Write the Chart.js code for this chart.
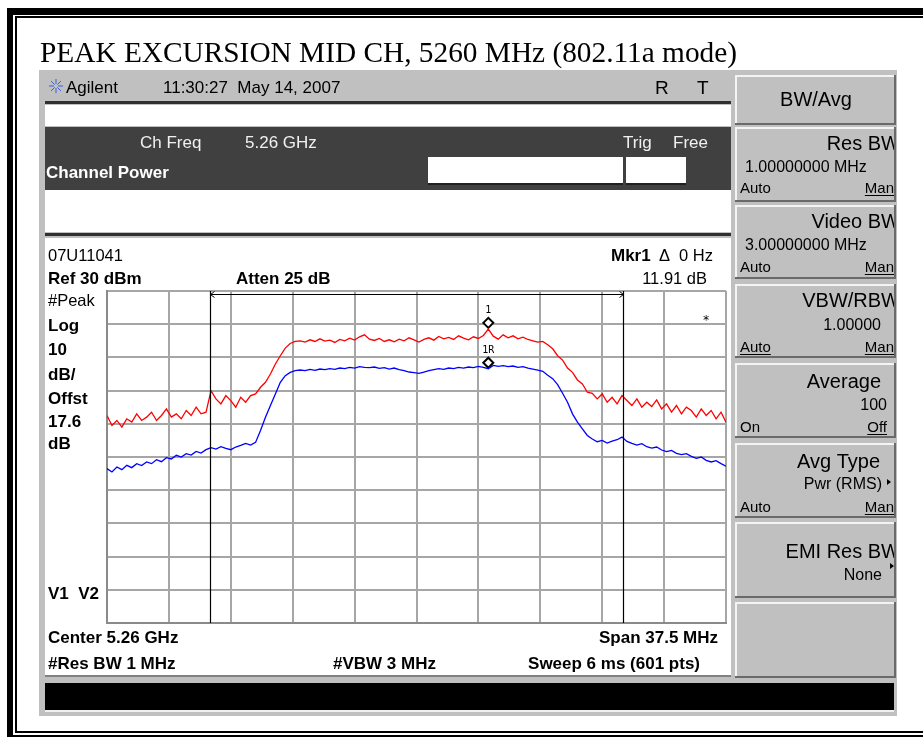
<!DOCTYPE html>
<html>
<head>
<meta charset="utf-8">
<script src="https://cdn.jsdelivr.net/npm/chart.js@4.4.1/dist/chart.umd.min.js"></script>
<style>
  html, body { margin: 0; padding: 0; background: #fff; }
  canvas { display: block; }
</style>
</head>
<body>
<canvas id="spectrum" width="923" height="737"></canvas>
<script>
// sweep settings (offset from center, MHz) and level scale (dBm)
const spanStart = -18.75;
const sweepStep = 0.3;
const yTicks = [-70, -60, -50, -40, -30, -20, -10, 0, 10, 20, 30];

// peak hold trace (red)
const redTrace = [
  -7.5, -10.5, -9.0, -11.0, -8.5, -9.5, -7.0, -9.0, -8.0, -6.5,
  -9.0, -7.5, -5.5, -8.0, -7.0, -8.5, -6.0, -7.5, -5.0, -7.0,
  -6.5, 0.0, -2.5, -4.0, -1.5, -3.0, -5.0, -2.0, -3.5, -1.5,
  -1.0, 1.0, 2.5, 5.0, 8.0, 10.5, 12.8, 14.2, 14.8, 15.0,
  14.6, 15.3, 14.8, 15.6, 14.9, 15.2, 14.5, 15.4, 15.0, 15.8,
  15.2, 16.2, 16.8, 15.5, 15.1, 15.7, 14.8, 15.3, 14.7, 15.5,
  15.0, 15.9, 15.3, 14.6, 15.4, 15.9, 15.2, 16.3, 15.6, 16.0,
  15.4, 16.5, 15.8, 15.3, 16.2, 15.7, 16.6, 18.5, 16.4, 15.5,
  16.8, 15.9, 16.5, 15.6, 16.1, 15.4, 15.0, 14.6, 14.8, 13.8,
  12.6, 10.5, 9.2, 6.8, 5.5, 3.2, 2.0, -0.5, -0.8, -2.5,
  -1.0, -3.5, -2.0, -4.0, -1.5, -3.0, -4.5, -2.5, -5.0, -3.5,
  -4.8, -2.8, -5.5, -4.0, -6.5, -4.5, -7.0, -5.0, -6.0, -8.0,
  -5.5, -7.5, -6.0, -8.5, -6.5, -9.5
];

// average (RMS) trace (blue)
const blueTrace = [
  -23.5, -24.5, -23.0, -23.8, -22.5, -23.2, -22.0, -22.6, -21.5, -22.0,
  -20.8, -21.4, -20.2, -20.6, -19.5, -20.0, -19.0, -19.4, -18.3, -18.8,
  -17.8, -17.2, -17.6, -16.9, -17.4, -17.8, -17.0, -16.5, -15.9, -16.4,
  -15.6, -12.0, -8.0, -4.5, -1.0, 2.5, 4.5, 5.5, 6.0, 6.2,
  6.0, 6.4, 6.1, 6.5, 6.3, 6.6, 6.4, 6.8, 6.6, 7.0,
  6.8, 7.2, 7.0, 6.9, 7.1, 6.7, 6.9, 6.5, 6.8, 6.3,
  6.0, 5.6, 5.4, 5.2, 5.6, 6.0, 6.3, 6.6, 6.4, 6.8,
  6.6, 7.0, 6.8, 7.1, 6.9, 7.3, 7.0, 6.6, 7.6, 7.3,
  7.5, 7.2, 7.4, 7.0, 7.2, 6.8, 6.5, 6.2, 5.8, 4.6,
  3.6, 1.8, -0.8, -3.5, -7.0, -9.5, -11.5, -13.5, -14.6, -15.4,
  -15.0, -15.8, -15.2, -14.8, -14.0, -15.3, -15.9, -16.4, -16.0, -16.9,
  -17.3, -17.0, -17.9, -18.4, -18.0, -18.9, -19.3, -19.0, -19.8, -20.4,
  -20.0, -21.0, -21.5, -21.1, -22.0, -22.8
];

// marker 1 / 1R (delta marker) and channel power integration limits
const markerFreq = [4.35, 4.35];
const markerLevel = [20.4, 8.4];
const markerNames = ['1', '1R'];
const integLimits = [-12.5, 12.5];

const freqAxis = redTrace.map((_, i) => spanStart + i * sweepStep);
const toPoints = (vals) => vals.map((v, i) => ({ x: freqAxis[i], y: v }));

const NARROW = '"Liberation Sans", Arial, sans-serif';

function txt(ctx, s, x, y, font, color, align) {
  ctx.font = font;
  ctx.fillStyle = color || '#000';
  ctx.textAlign = align || 'left';
  ctx.textBaseline = 'alphabetic';
  ctx.fillText(s, x, y);
}

// draw text squeezed/stretched to a given width
function fitText(ctx, s, x, y, width, font) {
  ctx.save();
  ctx.font = font;
  ctx.fillStyle = '#000';
  ctx.textAlign = 'left';
  const w = ctx.measureText(s).width;
  ctx.translate(x, y);
  ctx.scale(width / w, 1);
  ctx.fillText(s, 0, 0);
  ctx.restore();
}

function underline(ctx, s, x, y, align) {
  const w = ctx.measureText(s).width;
  const x0 = align === 'right' ? x - w : x;
  ctx.fillRect(x0, y + 2, w, 1);
}

function softkey(ctx, x, y, w, h) {
  ctx.fillStyle = '#c0c0c0';
  ctx.fillRect(x, y, w, h);
  ctx.fillStyle = '#f4f4f4';
  ctx.fillRect(x, y, w, 2);
  ctx.fillRect(x, y, 2, h);
  ctx.fillStyle = '#6a6a6a';
  ctx.fillRect(x, y + h - 2, w, 2);
  ctx.fillRect(x + w - 2, y, 2, h);
}

// everything around the graticule: frame, analyzer screen, annotations
const screenPlugin = {
  id: 'screen',
  beforeDraw(chart) {
    const ctx = chart.ctx;
    ctx.save();
    ctx.fillStyle = '#fff';
    ctx.fillRect(0, 0, 923, 737);

    // double black frame
    ctx.fillStyle = '#000';
    ctx.fillRect(7, 8, 916, 7);
    ctx.fillRect(7, 8, 6, 729);
    ctx.fillRect(7, 735, 916, 2);
    ctx.fillRect(15, 16, 908, 2);
    ctx.fillRect(15, 16, 2, 717);
    ctx.fillRect(15, 731, 908, 2);

    // title
    fitText(ctx, 'PEAK EXCURSION MID CH, 5260 MHz (802.11a mode)', 40, 62, 697,
        '30px "Liberation Serif", "Times New Roman", serif');

    // analyzer screen
    ctx.fillStyle = '#c0c0c0';
    ctx.fillRect(39, 70, 858, 646);

    // status line
    ctx.strokeStyle = '#3a5fd8';
    ctx.lineWidth = 1;
    for (let a = 0; a < 8; a++) {
      const ang = a * Math.PI / 4;
      ctx.beginPath();
      ctx.moveTo(56 + Math.cos(ang) * 2, 86 + Math.sin(ang) * 2);
      ctx.lineTo(56 + Math.cos(ang) * 7, 86 + Math.sin(ang) * 7);
      ctx.stroke();
    }
    txt(ctx, 'Agilent', 66, 93, '17px ' + NARROW, '#000');
    txt(ctx, '11:30:27  May 14, 2007', 163, 93, '17px ' + NARROW, '#000');
    txt(ctx, 'R', 655, 94, '19px ' + NARROW, '#000');
    txt(ctx, 'T', 697, 94, '19px ' + NARROW, '#000');

    ctx.fillStyle = '#303030';
    ctx.fillRect(45, 101, 686, 3);
    ctx.fillStyle = '#fff';
    ctx.fillRect(45, 105, 686, 21);

    // channel power measurement panel
    ctx.fillStyle = '#404040';
    ctx.fillRect(45, 127, 686, 63);
    txt(ctx, 'Ch Freq', 140, 148, '17px ' + NARROW, '#f0f0f0');
    txt(ctx, '5.26 GHz', 245, 148, '17px ' + NARROW, '#f0f0f0');
    txt(ctx, 'Trig', 623, 148, '17px ' + NARROW, '#f0f0f0');
    txt(ctx, 'Free', 673, 148, '17px ' + NARROW, '#f0f0f0');
    txt(ctx, 'Channel Power', 46, 178, 'bold 17px ' + NARROW, '#fff');
    ctx.fillStyle = '#fff';
    ctx.fillRect(428, 157, 195, 28);
    ctx.fillRect(626, 157, 60, 28);
    ctx.fillStyle = '#202020';
    ctx.fillRect(428, 183, 195, 2);
    ctx.fillRect(626, 183, 60, 2);

    ctx.fillStyle = '#fff';
    ctx.fillRect(45, 190, 686, 42);
    ctx.fillStyle = '#303030';
    ctx.fillRect(45, 233, 686, 3);

    // graph window
    ctx.fillStyle = '#fff';
    ctx.fillRect(45, 238, 686, 437);
    ctx.fillStyle = '#808080';
    ctx.fillRect(45, 675, 686, 2);

    const bold = 'bold 17px ' + NARROW;
    const reg = '16.5px ' + NARROW;
    txt(ctx, '07U11041', 48, 261, reg);
    txt(ctx, 'Mkr1', 611, 261, bold);
    txt(ctx, '\u0394  0 Hz', 713, 261, reg, '#000', 'right');
    txt(ctx, 'Ref 30 dBm', 48, 284, bold);
    txt(ctx, 'Atten 25 dB', 236, 284, bold);
    txt(ctx, '11.91 dB', 707, 284, reg, '#000', 'right');

    txt(ctx, '#Peak', 48, 306, reg);
    const side = [['Log', 331], ['10', 355], ['dB/', 380], ['Offst', 404], ['17.6', 427], ['dB', 449]];
    side.forEach(([s, y]) => txt(ctx, s, 48, y, bold));
    txt(ctx, 'V1  V2', 48, 599, bold);

    txt(ctx, 'Center 5.26 GHz', 48, 643, bold);
    txt(ctx, 'Span 37.5 MHz', 718, 643, bold, '#000', 'right');
    txt(ctx, '#Res BW 1 MHz', 48, 669, bold);
    txt(ctx, '#VBW 3 MHz', 333, 669, bold);
    txt(ctx, 'Sweep 6 ms (601 pts)', 700, 669, bold, '#000', 'right');

    // message bar
    ctx.fillStyle = '#000';
    ctx.fillRect(45, 683, 849, 27);
    ctx.fillStyle = '#f0f0f0';
    ctx.fillRect(45, 710, 849, 2);

    // softkeys
    const keys = [
      [75, 50], [127, 75], [205, 74], [284, 74], [363, 75], [443, 75], [522, 76], [602, 76]
    ];
    keys.forEach(([y, h]) => softkey(ctx, 735, y, 161, h));

    ctx.save();
    ctx.beginPath();
    ctx.rect(735, 70, 159, 646);
    ctx.clip();
    const big = '20px ' + NARROW;
    const mid = '16px ' + NARROW;
    const sm = '15px ' + NARROW;
    txt(ctx, 'BW/Avg', 816, 106, big, '#000', 'center');

    txt(ctx, 'Res BW', 900, 150, big, '#000', 'right');
    txt(ctx, '1.00000000 MHz', 745, 172, mid);
    txt(ctx, 'Auto', 740, 193, sm);
    txt(ctx, 'Man', 894, 193, sm, '#000', 'right'); underline(ctx, 'Man', 894, 193, 'right');

    txt(ctx, 'Video BW', 900, 228, big, '#000', 'right');
    txt(ctx, '3.00000000 MHz', 745, 250, mid);
    txt(ctx, 'Auto', 740, 272, sm);
    txt(ctx, 'Man', 894, 272, sm, '#000', 'right'); underline(ctx, 'Man', 894, 272, 'right');

    txt(ctx, 'VBW/RBW', 900, 307, big, '#000', 'right');
    txt(ctx, '1.00000', 881, 330, mid, '#000', 'right');
    txt(ctx, 'Auto', 740, 352, sm); underline(ctx, 'Auto', 740, 352);
    txt(ctx, 'Man', 894, 352, sm, '#000', 'right'); underline(ctx, 'Man', 894, 352, 'right');

    txt(ctx, 'Average', 881, 388, big, '#000', 'right');
    txt(ctx, '100', 887, 410, mid, '#000', 'right');
    txt(ctx, 'On', 740, 432, sm);
    txt(ctx, 'Off', 887, 432, sm, '#000', 'right'); underline(ctx, 'Off', 887, 432, 'right');

    txt(ctx, 'Avg Type', 880, 468, big, '#000', 'right');
    txt(ctx, 'Pwr (RMS)', 882, 489, mid, '#000', 'right');
    txt(ctx, 'Auto', 740, 512, sm);
    txt(ctx, 'Man', 894, 512, sm, '#000', 'right'); underline(ctx, 'Man', 894, 512, 'right');

    txt(ctx, 'EMI Res BW', 900, 558, big, '#000', 'right');
    txt(ctx, 'None', 882, 580, mid, '#000', 'right');

    ctx.fillStyle = '#000';
    [[887, 479], [890, 563]].forEach(([ax, ay]) => {
      ctx.beginPath();
      ctx.moveTo(ax, ay);
      ctx.lineTo(ax + 4, ay + 3);
      ctx.lineTo(ax, ay + 6);
      ctx.fill();
    });
    ctx.restore();

    ctx.restore();
  },
  afterDatasetsDraw(chart) {
    const ctx = chart.ctx;
    const xs = chart.scales.x;
    const ys = chart.scales.y;
    const area = chart.chartArea;
    ctx.save();
    ctx.strokeStyle = '#000';
    ctx.lineWidth = 1.2;
    const xl = Math.round(xs.getPixelForValue(integLimits[0])) + 0.5;
    const xr = Math.round(xs.getPixelForValue(integLimits[1])) + 0.5;
    [xl, xr].forEach(x => {
      ctx.beginPath();
      ctx.moveTo(x, area.top);
      ctx.lineTo(x, area.bottom);
      ctx.stroke();
    });
    // integration bandwidth arrow
    const ay = area.top + 3.5;
    ctx.lineWidth = 1;
    ctx.beginPath();
    ctx.moveTo(xl, ay);
    ctx.lineTo(xr, ay);
    ctx.moveTo(xl + 4, ay - 3);
    ctx.lineTo(xl, ay);
    ctx.lineTo(xl + 4, ay + 3);
    ctx.moveTo(xr - 4, ay - 3);
    ctx.lineTo(xr, ay);
    ctx.lineTo(xr - 4, ay + 3);
    ctx.stroke();

    // marker labels
    ctx.fillStyle = '#000';
    ctx.textAlign = 'center';
    ctx.font = '10px "DejaVu Sans Mono", monospace';
    markerFreq.forEach((f, i) => {
      const px = xs.getPixelForValue(f);
      const py = ys.getPixelForValue(markerLevel[i]);
      ctx.fillText(markerNames[i], px, py - 10);
    });
    ctx.font = '12px "DejaVu Sans Mono", monospace';
    ctx.fillText('*', 706, 324);
    ctx.restore();
  }
};

const gridStyle = { color: '#a6a6a6', lineWidth: 2, drawTicks: false };
const borderStyle = { color: '#8a8a8a', width: 2 };

new Chart(document.getElementById('spectrum'), {
  type: 'line',
  data: {
    datasets: [{
      label: 'Trace 1 (peak)',
      data: toPoints(redTrace),
      borderColor: '#ff0000',
      borderWidth: 1.3,
      pointRadius: 0,
      tension: 0
    }, {
      label: 'Trace 2 (average)',
      data: toPoints(blueTrace),
      borderColor: '#0000ff',
      borderWidth: 1.3,
      pointRadius: 0,
      tension: 0
    }, {
      label: 'Markers',
      data: markerFreq.map((f, i) => ({ x: f, y: markerLevel[i] })),
      showLine: false,
      pointStyle: 'rectRot',
      pointRadius: 5,
      pointBorderWidth: 2,
      pointBorderColor: '#000',
      pointBackgroundColor: '#fff'
    }]
  },
  options: {
    responsive: false,
    animation: false,
    layout: { padding: { left: 107, right: 197, top: 291, bottom: 114 } },
    plugins: { legend: { display: false }, tooltip: { enabled: false } },
    scales: {
      x: {
        type: 'linear',
        min: spanStart,
        max: -spanStart,
        ticks: { display: false, stepSize: 3.75 },
        grid: gridStyle,
        border: borderStyle
      },
      y: {
        min: yTicks[0],
        max: yTicks[yTicks.length - 1],
        ticks: { display: false, stepSize: 10 },
        grid: gridStyle,
        border: borderStyle
      }
    }
  },
  plugins: [screenPlugin]
});
</script>
</body>
</html>
